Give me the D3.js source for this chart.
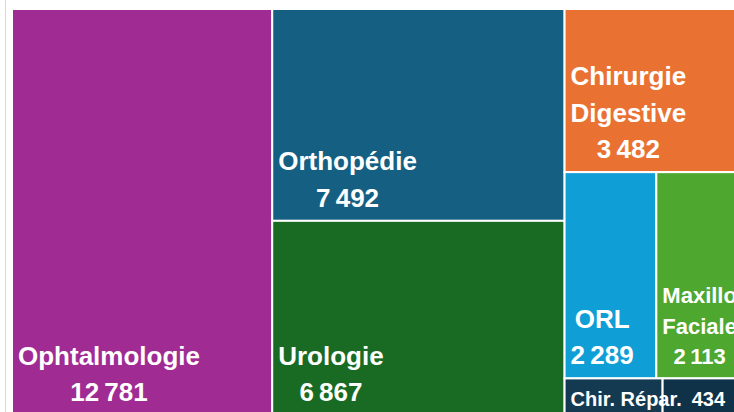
<!DOCTYPE html>
<html>
<head>
<meta charset="utf-8">
<script src="https://cdn.jsdelivr.net/npm/d3@7"></script>
<style>
  body { margin: 0; background: #fff; }
  svg { display: block; }
  text { font-family: "Liberation Sans", Arial, sans-serif; font-weight: bold; fill: #fff; }
</style>
</head>
<body>
<svg id="chart" width="734" height="412"></svg>
<script>
// treemap data (Excel style chart, cropped at right and bottom)
var categories = ["Ophtalmologie", "Orthopédie", "Urologie", "Chirurgie Digestive", "ORL", "Maxillo Faciale", "Chir. Répar.", "Autres"];
var values = [12781, 7492, 6867, 3482, 2289, 2113, 434, 347];
var colors = ["#A02B93", "#156082", "#196B24", "#E97132", "#0F9ED5", "#4EA72E", "#133A51", "#0F3249"];

var fr = d3.formatLocale({ decimal: ",", thousands: "\u2009", grouping: [3], currency: ["", " €"] });
var fmt = fr.format(",d");

var svg = d3.select("#chart");

// light chart border on the left
svg.append("line")
  .attr("x1", 5.5).attr("x2", 5.5)
  .attr("y1", 0).attr("y2", 412)
  .attr("stroke", "#d9d9d9");

var root = d3.hierarchy({
  children: categories.map(function(c, i) {
    return { name: c, value: values[i], color: colors[i] };
  })
}).sum(function(d) { return d.value || 0; });

d3.treemap()
  .tile(d3.treemapSquarify.ratio(1.27))
  .size([729, 406])(root);

var g = svg.append("g").attr("transform", "translate(12,9)");

g.append("g").selectAll("rect").data(root.leaves())
  .enter().append("rect")
  .attr("x", function(d) { return d.x0; })
  .attr("y", function(d) { return d.y0; })
  .attr("width", function(d) { return d.x1 - d.x0; })
  .attr("height", function(d) { return d.y1 - d.y0; })
  .attr("fill", function(d) { return d.data.color; })
  .attr("stroke", "#fff")
  .attr("stroke-width", 2);

// labels on top of every rect, so long ones can spill over
var labels = g.append("g");

root.leaves().forEach(function(d) {
  if (d.data.name === "Autres") return; // too small, no label
  var w = d.x1 - d.x0, h = d.y1 - d.y0;
  var left = d.x0 + 6;

  if (h < 60) {
    // short cell: name and value on one line
    var t = labels.append("text")
      .attr("x", left).attr("y", d.y1 - 9)
      .style("font-size", "20px");
    t.append("tspan").text(d.data.name);
    t.append("tspan").attr("dx", 10).text(fmt(d.value));
    return;
  }

  var fs = w < 90 ? 22 : 26;
  var lh = fs * 1.4;
  var txt = labels.append("text").style("font-size", fs + "px");

  // wrap the name on spaces when it doesn't fit
  var words = d.data.name.split(" ");
  var lines = [], cur = "";
  var probe = txt.append("tspan");
  words.forEach(function(wd) {
    var test = cur ? cur + " " + wd : wd;
    probe.text(test);
    if (cur && probe.node().getComputedTextLength() > w - 12) {
      lines.push(cur);
      cur = wd;
    } else {
      cur = test;
    }
  });
  lines.push(cur);
  probe.remove();
  lines.push(fmt(d.value));

  var spans = txt.selectAll("tspan").data(lines).enter().append("tspan")
    .text(function(l) { return l; })
    .attr("y", function(l, i) { return d.y1 - 14 - (lines.length - 1 - i) * lh; });

  var blockW = 0;
  spans.each(function() { blockW = Math.max(blockW, this.getComputedTextLength()); });
  spans.attr("x", left + blockW / 2).attr("text-anchor", "middle");
});
</script>
</body>
</html>
